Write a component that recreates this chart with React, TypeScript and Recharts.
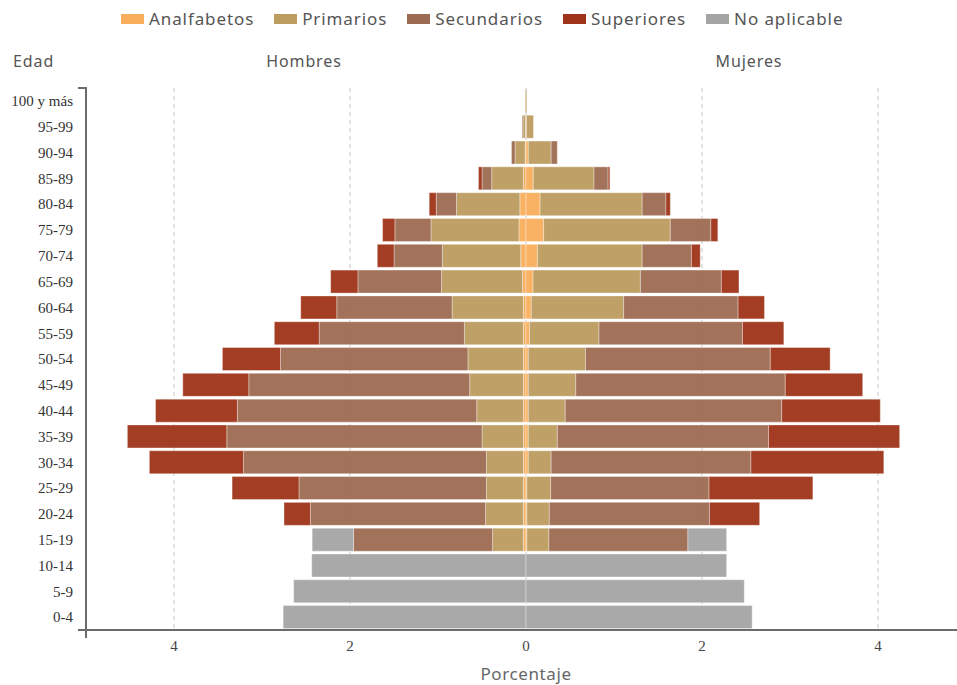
import { BarChart, Bar, XAxis, YAxis, CartesianGrid } from 'recharts';

const edades = ['100 y más', '95-99', '90-94', '85-89', '80-84', '75-79', '70-74', '65-69', '60-64', '55-59', '50-54', '45-49', '40-44', '35-39', '30-34', '25-29', '20-24', '15-19', '10-14', '5-9', '0-4'];

// hombres (se dibujan en negativo)
const hAnalfabetos = [0, 0.005, 0.01, 0.03, 0.07, 0.08, 0.06, 0.04, 0.03, 0.03, 0.03, 0.03, 0.03, 0.03, 0.03, 0.03, 0.03, 0.03, 0, 0, 0];
const hPrimarios = [0.01, 0.03, 0.115, 0.36, 0.72, 1.0, 0.89, 0.92, 0.81, 0.67, 0.63, 0.61, 0.53, 0.47, 0.42, 0.42, 0.43, 0.35, 0, 0, 0];
const hSecundarios = [0, 0.01, 0.04, 0.11, 0.23, 0.41, 0.55, 0.95, 1.31, 1.65, 2.13, 2.51, 2.72, 2.9, 2.76, 2.13, 1.99, 1.58, 0, 0, 0];
const hSuperiores = [0, 0, 0, 0.04, 0.08, 0.14, 0.19, 0.31, 0.41, 0.51, 0.66, 0.75, 0.93, 1.13, 1.07, 0.76, 0.3, 0, 0, 0, 0];
const hNoAplicable = [0, 0, 0, 0, 0, 0, 0, 0, 0, 0, 0, 0, 0, 0, 0, 0, 0, 0.47, 2.435, 2.64, 2.76];

// mujeres
const mAnalfabetos = [0, 0.005, 0.026, 0.083, 0.16, 0.2, 0.13, 0.08, 0.06, 0.04, 0.026, 0.026, 0.026, 0.026, 0.026, 0.01, 0.01, 0.01, 0, 0, 0];
const mPrimarios = [0.01, 0.08, 0.26, 0.69, 1.16, 1.44, 1.19, 1.22, 1.05, 0.79, 0.65, 0.54, 0.42, 0.33, 0.26, 0.27, 0.255, 0.25, 0, 0, 0];
const mSecundarios = [0, 0, 0.07, 0.16, 0.27, 0.46, 0.56, 0.92, 1.3, 1.63, 2.1, 2.38, 2.46, 2.4, 2.27, 1.8, 1.82, 1.58, 0, 0, 0];
const mSuperiores = [0, 0, 0, 0.02, 0.05, 0.08, 0.1, 0.2, 0.3, 0.47, 0.68, 0.88, 1.12, 1.49, 1.51, 1.18, 0.57, 0, 0, 0, 0];
const mNoAplicable = [0, 0, 0, 0, 0, 0, 0, 0, 0, 0, 0, 0, 0, 0, 0, 0, 0, 0.44, 2.28, 2.48, 2.57];

const niveles = ['Analfabetos', 'Primarios', 'Secundarios', 'Superiores', 'No aplicable'];
const colores = ['#F9AE5B', '#BC9C5F', '#9D6B51', '#9E3418', '#A4A4A4'];
const ticksX = [-4, -2, 0, 2, 4];

const hombres = [hAnalfabetos, hPrimarios, hSecundarios, hSuperiores, hNoAplicable];
const mujeres = [mAnalfabetos, mPrimarios, mSecundarios, mSuperiores, mNoAplicable];

const data = edades.map((edad, i) => {
  const row: Record<string, any> = { edad };
  niveles.forEach((n, k) => {
    row['h_' + n] = -hombres[k][i];
    row['m_' + n] = mujeres[k][i];
  });
  return row;
});

const sans = '"Noto Sans", "Open Sans", sans-serif';
const serif = '"Liberation Serif", "Times New Roman", serif';
const axisColor = '#6b6b6b';

const header = { position: 'absolute' as const, top: 50, fontFamily: sans, fontSize: 16, letterSpacing: 0.9, color: '#555' };

export default function App() {
  return (
    <div style={{ position: 'absolute', left: 0, top: 0, width: 957, height: 685, overflow: 'hidden', background: '#fff' }}>
      {/* leyenda */}
      <div style={{ position: 'absolute', top: 7, left: 121, display: 'flex', fontFamily: sans, fontSize: 17, letterSpacing: 0.9, color: '#555' }}>
        {niveles.map((n, k) => (
          <div key={n} style={{ display: 'flex', alignItems: 'center', marginRight: 20 }}>
            <span style={{ display: 'inline-block', width: 23, height: 10, background: colores[k], marginRight: 5 }} />
            <span>{n}</span>
          </div>
        ))}
      </div>

      <div style={{ ...header, left: 13 }}>Edad</div>
      <div style={{ ...header, left: 304, transform: 'translateX(-50%)' }}>Hombres</div>
      <div style={{ ...header, left: 749, transform: 'translateX(-50%)' }}>Mujeres</div>
      <div style={{ position: 'absolute', top: 664, left: 526, transform: 'translateX(-50%)', fontFamily: sans, fontSize: 17, letterSpacing: 0.6, lineHeight: '20px', color: '#666' }}>Porcentaje</div>

      <BarChart
        width={1000}
        height={685}
        data={data}
        layout="vertical"
        stackOffset="sign"
        barCategoryGap="5.5%"
        margin={{ top: 88, right: 34, bottom: 25, left: 0 }}
        style={{ position: 'absolute', left: 0, top: 0 }}
      >
        <CartesianGrid horizontal={false} strokeDasharray="4 4" stroke="#c4c4c4" />
        <XAxis
          type="number"
          domain={[-5, 5]}
          ticks={ticksX}
          tickFormatter={(v: number) => String(Math.abs(v))}
          tickLine={false}
          axisLine={{ stroke: axisColor, strokeWidth: 2 }}
          tick={{ fontFamily: serif, fontSize: 15, fill: '#444' }}
          tickMargin={4}
          height={30}
        />
        <YAxis
          type="category"
          dataKey="edad"
          width={86}
          tickLine={false}
          axisLine={{ stroke: axisColor, strokeWidth: 2 }}
          tick={{ fontFamily: serif, fontSize: 15, fill: '#333' }}
          tickMargin={7}
          interval={0}
        />
        {niveles.map((n, k) => (
          <Bar key={'h' + n} dataKey={'h_' + n} stackId="a" fill={colores[k]} fillOpacity={0.95} stroke="#fff" strokeOpacity={0.35} legendType="none" isAnimationActive={false} />
        ))}
        {niveles.map((n, k) => (
          <Bar key={'m' + n} dataKey={'m_' + n} name={n} stackId="a" fill={colores[k]} fillOpacity={0.95} stroke="#fff" strokeOpacity={0.35} isAnimationActive={false} />
        ))}
      </BarChart>

      {/* marcas exteriores de los ejes */}
      <div style={{ position: 'absolute', left: 78, top: 87, width: 9, height: 2, background: axisColor }} />
      <div style={{ position: 'absolute', left: 78, top: 629, width: 9, height: 2, background: axisColor }} />
      <div style={{ position: 'absolute', left: 85, top: 629, width: 2, height: 9, background: axisColor }} />
    </div>
  );
}
